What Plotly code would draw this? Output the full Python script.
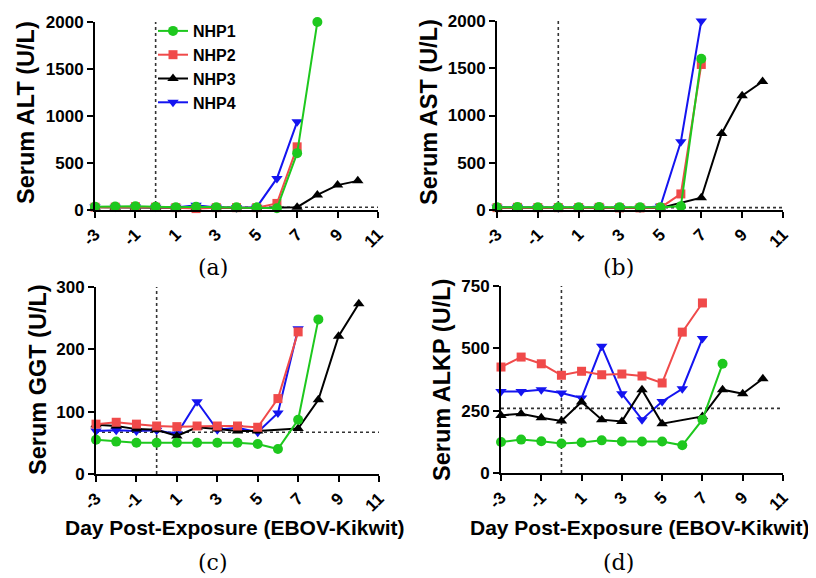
import plotly.graph_objects as go

# ---------------- data ----------------
days = [-3, -2, -1, 0, 1, 2, 3, 4, 5, 6, 7, 8, 9, 10]
series_names = ["NHP1", "NHP2", "NHP3", "NHP4"]

alt_nhp1 = [35, 38, 40, 35, 30, 35, 30, 28, 28, 18, 605, 2000]
alt_nhp2 = [30, 30, 35, 30, 25, 15, 25, 25, 25, 70, 672]
alt_nhp3 = [30, 28, 30, 28, 25, 25, 22, 20, 22, None, 30, 160, 265, 310]
alt_nhp4 = [32, 30, 32, 30, 28, 50, 28, 25, 30, 336, 938]

ast_nhp1 = [30, 32, 28, 30, 30, 32, 28, 28, 28, 40, 1600]
ast_nhp2 = [25, 28, 25, 25, 25, 28, 22, 22, 25, 170, 1540]
ast_nhp3 = [25, 25, 22, 22, 22, 25, 20, 20, 22, None, 130, 810, 1210, 1360]
ast_nhp4 = [28, 28, 25, 25, 25, 28, 25, 22, 40, 722, 2000]

ggt_nhp1 = [55, 52, 50, 50, 50, 50, 50, 50, 48, 40, 87, 248]
ggt_nhp2 = [80, 83, 80, 77, 76, 77, 77, 77, 75, 121, 228]
ggt_nhp3 = [79, 77, 72, 71, 61, 75, 72, 69, 69, None, 73, 119, 221, 273]
ggt_nhp4 = [69, 70, 69, 70, 64, 116, 71, 74, 67, 98, 233]

alkp_nhp1 = [124, 134, 127, 118, 122, 131, 126, 126, 126, 111, 214, 438]
alkp_nhp2 = [425, 465, 438, 392, 408, 394, 397, 389, 361, 565, 682]
alkp_nhp3 = [231, 238, 222, 209, 285, 214, 207, 334, 198, None, 227, 334, 318, 378]
alkp_nhp4 = [327, 327, 334, 321, 301, 508, 318, 214, 287, 338, 539]

ref_alt, ref_ast, ref_ggt, ref_alkp = 30, 25, 67, 259
exposure_day = 0

y_titles = ["Serum ALT (U/L)", "Serum AST (U/L)", "Serum GGT (U/L)", "Serum ALKP (U/L)"]
y_ticks = [[0, 500, 1000, 1500, 2000], [0, 500, 1000, 1500, 2000],
           [0, 100, 200, 300], [0, 250, 500, 750]]
x_ticks = [-3, -1, 1, 3, 5, 7, 9, 11]
x_title = "Day Post-Exposure (EBOV-Kikwit)"
panel_labels = ["(a)", "(b)", "(c)", "(d)"]

# ---------------- style ----------------
# the page body has an 8px margin; lay the figure out in screen pixels
OFF = 8
SW, SH = 816, 578
W, H = SW - OFF, SH - OFF


def fx(px):
    return (px - OFF) / W


def fy(py):
    return 1 - (py - OFF) / H


colors = {"NHP1": "#1ec81e", "NHP2": "#f04a4a", "NHP3": "#000000", "NHP4": "#1414f0"}
symbols = {"NHP1": "circle", "NHP2": "square", "NHP3": "triangle-up", "NHP4": "triangle-down"}
msize = {"NHP1": 10, "NHP2": 9, "NHP3": 10, "NHP4": 10}

panels = [
    dict(data=[alt_nhp1, alt_nhp2, alt_nhp3, alt_nhp4], ref=ref_alt,
         px=(95, 378), py=(22, 210), ymax=2000),
    dict(data=[ast_nhp1, ast_nhp2, ast_nhp3, ast_nhp4], ref=ref_ast,
         px=(497, 783), py=(21, 210), ymax=2000),
    dict(data=[ggt_nhp1, ggt_nhp2, ggt_nhp3, ggt_nhp4], ref=ref_ggt,
         px=(96, 379), py=(287, 474), ymax=300),
    dict(data=[alkp_nhp1, alkp_nhp2, alkp_nhp3, alkp_nhp4], ref=ref_alkp,
         px=(501, 783), py=(286, 473), ymax=750),
]
ytitle_pos = [(26, 113), (429, 112), (38, 380), (442, 380)]
label_pos = [(213, 267), (618, 267), (213, 562), (618, 562)]
xtitle_pos = [(235, 527), (640, 527)]

BOLD = "Liberation Sans"

fig = go.Figure()
layout = dict(width=W, height=H, margin=dict(l=0, r=0, t=0, b=0, autoexpand=False),
              paper_bgcolor="white", plot_bgcolor="white",
              font=dict(family=BOLD, color="black"))
shapes, annotations = [], []

draw_order = [3, 2, 1, 0]
for i, p in enumerate(panels):
    n = i + 1
    xa = "x" if n == 1 else f"x{n}"
    ya = "y" if n == 1 else f"y{n}"
    for k in draw_order:
        name = series_names[k]
        vals = p["data"][k]
        fig.add_trace(go.Scatter(
            x=days[:len(vals)], y=vals, name=f"<b>{name}</b>", mode="lines+markers",
            connectgaps=True, cliponaxis=False,
            line=dict(color=colors[name], width=2),
            marker=dict(symbol=symbols[name], size=msize[name], color=colors[name]),
            xaxis=xa, yaxis=ya, showlegend=(n == 1), legendrank=k + 1))
    xd = [fx(p["px"][0]), fx(p["px"][1])]
    yd = [fy(p["py"][1]), fy(p["py"][0])]
    axis_common = dict(showline=True, linecolor="black", linewidth=2, ticks="outside",
                       ticklen=6, tickwidth=2, tickcolor="black", showgrid=False,
                       zeroline=False, automargin=False,
                       tickfont=dict(family=BOLD, size=17, color="black"))
    layout["xaxis" if n == 1 else f"xaxis{n}"] = dict(
        domain=xd, range=[-3, 11], tickvals=x_ticks,
        ticktext=[f"<b>{t}</b>" for t in x_ticks],
        tickangle=-45, anchor=ya, **axis_common)
    layout["yaxis" if n == 1 else f"yaxis{n}"] = dict(
        domain=yd, range=[0, p["ymax"]], tickvals=y_ticks[i],
        ticktext=[f"<b>{t}</b>" for t in y_ticks[i]], anchor=xa, **axis_common)
    # reference lines
    shapes.append(dict(type="line", xref=xa, yref=ya, x0=exposure_day, x1=exposure_day,
                       y0=0, y1=p["ymax"], layer="below",
                       line=dict(color="#333333", width=1.6, dash="dot")))
    shapes.append(dict(type="line", xref=xa, yref=ya, x0=-3, x1=11,
                       y0=p["ref"], y1=p["ref"], layer="below",
                       line=dict(color="#333333", width=1.6, dash="dot")))
    # titles & labels
    tx, ty = ytitle_pos[i]
    annotations.append(dict(text=f"<b>{y_titles[i]}</b>", xref="paper", yref="paper",
                            x=fx(tx), y=fy(ty), xanchor="center", yanchor="middle",
                            textangle=-90, showarrow=False,
                            font=dict(family=BOLD, size=23.5)))
    lx, ly = label_pos[i]
    annotations.append(dict(text=panel_labels[i], xref="paper", yref="paper",
                            x=fx(lx), y=fy(ly), xanchor="center", yanchor="middle",
                            showarrow=False,
                            font=dict(family="DejaVu Serif", size=22, color="black")))
for (tx, ty) in xtitle_pos:
    annotations.append(dict(text=f"<b>{x_title}</b>", xref="paper", yref="paper",
                            x=fx(tx), y=fy(ty), xanchor="center", yanchor="middle",
                            showarrow=False,
                            font=dict(family=BOLD, size=21)))

layout["shapes"] = shapes
layout["annotations"] = annotations
layout["legend"] = dict(x=fx(153), y=fy(14), xanchor="left", yanchor="top",
                        bgcolor="rgba(0,0,0,0)", tracegroupgap=0, itemwidth=30,
                        font=dict(family=BOLD, size=16, color="black"))
fig.update_layout(**layout)
fig.write_html("out.html")
